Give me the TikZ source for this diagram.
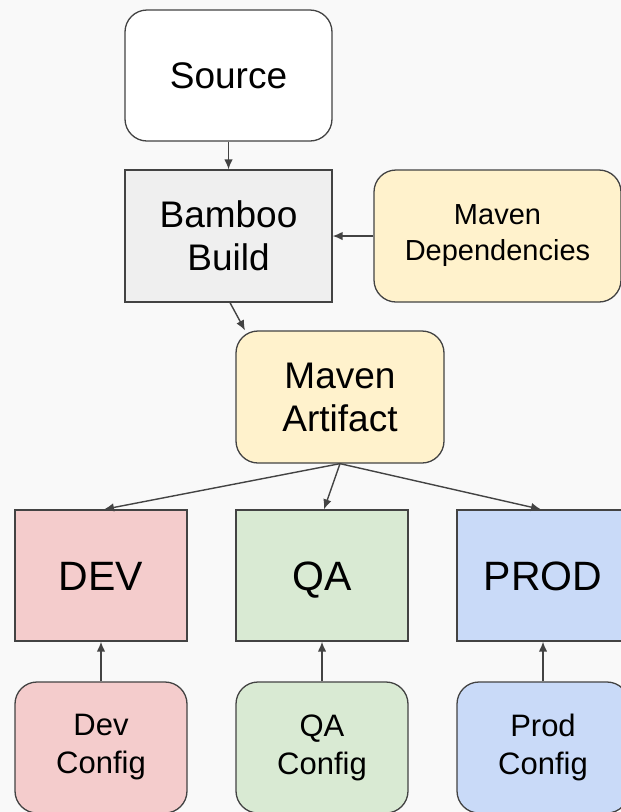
\documentclass[tikz,border=0pt]{standalone}
\usepackage{fontspec}
\setmainfont{Liberation Sans}
\usetikzlibrary{arrows.meta}
\definecolor{bgcol}{RGB}{249,249,249}
\definecolor{linecol}{RGB}{67,67,67}
\definecolor{buildcol}{RGB}{239,239,239}
\definecolor{mavencol}{RGB}{255,242,204}
\definecolor{devcol}{RGB}{244,204,204}
\definecolor{qacol}{RGB}{217,234,211}
\definecolor{prodcol}{RGB}{201,218,248}
\begin{document}
\begin{tikzpicture}[x=1pt, y=-1pt,
		box/.style={draw=linecol, line width=1.3pt, inner sep=0pt, align=center},
		rbox/.style={box, rounded corners=22pt},
		arr/.style={draw=linecol, line width=1.4pt, -{Latex[length=10pt,width=8.5pt]}},
		big/.style={font=\fontsize{37}{43}\selectfont},
		small/.style={font=\fontsize{29}{36}\selectfont},
		env/.style={box, minimum width=172pt, minimum height=131pt, text height=30pt, text depth=0pt, font=\fontsize{41}{48}\selectfont},
		cfg/.style={rbox, minimum width=172pt, minimum height=131pt, font=\fontsize{31}{38}\selectfont}]
		%background
		\useasboundingbox[fill=bgcol] (0,0) rectangle (621,812);
		\clip (0,0) rectangle (621,812);
		
		%build chain
		\node (src) at (228.5, 75.5) [rbox, big, fill=white, minimum width=207pt, minimum height=131pt]{Source};
		\node (bamboo) at (228.5, 236) [box, big, fill=buildcol, minimum width=207pt, minimum height=132pt]{Bamboo\\Build};
		\node (deps) at (497.5, 236) [rbox, small, fill=mavencol, minimum width=247pt, minimum height=132pt]{Maven\\Dependencies};
		\node (artifact) at (340, 397) [rbox, big, fill=mavencol, minimum width=208pt, minimum height=132pt]{Maven\\Artifact};
		
		%environments
		\node (dev) at (101, 575.5) [env, fill=devcol]{DEV};
		\node (qa) at (322, 575.5) [env, fill=qacol]{QA};
		\node (prod) at (543, 575.5) [env, fill=prodcol]{PROD};
		
		%configs
		\node (devcfg) at (101, 747.5) [cfg, fill=devcol]{Dev\\Config};
		\node (qacfg) at (322, 747.5) [cfg, fill=qacol]{QA\\Config};
		\node (prodcfg) at (543, 747.5) [cfg, fill=prodcol]{Prod\\Config};
		
		\draw[arr] (src) -- (bamboo);
		\draw[arr] (deps) -- (bamboo);
		\draw[arr] ([xshift=1.5pt]bamboo.south) -- ([xshift=-95pt]artifact.north);
		\draw[arr] (artifact.south) -- ([xshift=3pt]dev.north);
		\draw[arr] (artifact.south) -- ([xshift=2pt]qa.north);
		\draw[arr] (artifact.south) -- ([xshift=-2pt]prod.north);
		\draw[arr] (devcfg) -- (dev);
		\draw[arr] (qacfg) -- (qa);
		\draw[arr] (prodcfg) -- (prod);
	\end{tikzpicture}
\end{document}
